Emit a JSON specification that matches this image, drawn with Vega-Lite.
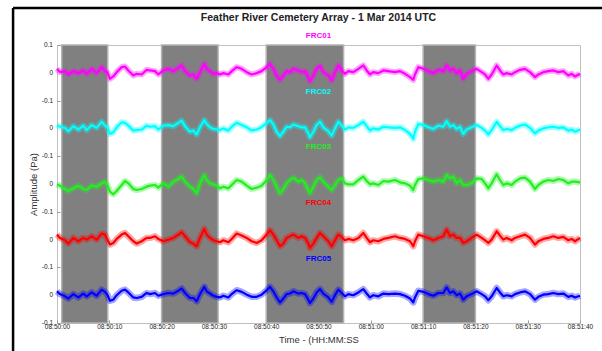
{
  "$schema": "https://vega.github.io/schema/vega-lite/v6.json",
  "width": 523,
  "height": 278,
  "autosize": {"type": "none"},
  "padding": {"left": 57, "top": 45, "right": 22, "bottom": 28},
  "background": "white",
  "title": {"text": "Feather River Cemetery Array - 1 Mar 2014 UTC", "font": "Liberation Sans", "fontSize": 10.5, "fontWeight": "bold", "color": "#222222", "offset": -17, "anchor": "middle"},
  "config": {
    "view": {"stroke": "#c0c0c0", "strokeWidth": 1},
    "axis": {"labelFont": "Liberation Sans", "titleFont": "Liberation Sans", "labelColor": "#222222", "titleColor": "#333333", "titleFontWeight": "normal", "grid": false, "domain": false, "tickColor": "#999999", "labelOverlap": false, "labelFlush": false, "labelBound": false}
  },
  "datasets": {
    "windows": [
      {"t0": 0.9, "t1": 9.7},
      {"t0": 20, "t1": 30.8},
      {"t0": 40, "t1": 54.8},
      {"t0": 70, "t1": 80}
    ],
    "stations": [
      {"s": "FRC01", "offset": 0},
      {"s": "FRC02", "offset": -0.2},
      {"s": "FRC03", "offset": -0.4},
      {"s": "FRC04", "offset": -0.6},
      {"s": "FRC05", "offset": -0.8}
    ],
    "yticks": [
      {"v": 0.1, "label": "0.1"},
      {"v": 0, "label": "0"},
      {"v": -0.1, "label": "-0.1"},
      {"v": -0.2, "label": "0"},
      {"v": -0.3, "label": "-0.1"},
      {"v": -0.4, "label": "0"},
      {"v": -0.5, "label": "-0.1"},
      {"v": -0.6, "label": "0"},
      {"v": -0.7, "label": "-0.1"},
      {"v": -0.8, "label": "0"},
      {"v": -0.9, "label": "-0.1"}
    ],
    "frame": [
      {"x": -8.4, "x2": 115, "y": 0.233, "y2": 0.233},
      {"x": -8.4, "x2": -8.4, "y": 0.233, "y2": -1.3}
    ],
    "waves": [
      {"t":0,"FRC01":0.0144,"FRC02":0.012,"FRC03":-0.0012,"FRC04":0.018,"FRC05":0.014},
      {"t":0.57,"FRC01":0.0024,"FRC02":0.006,"FRC03":-0.006,"FRC04":0.006,"FRC05":0.004},
      {"t":1.53,"FRC01":0.006,"FRC02":0.002,"FRC03":-0.018,"FRC04":-0.0024,"FRC05":-0.004},
      {"t":2.17,"FRC01":-0.006,"FRC02":-0.01,"FRC03":-0.0252,"FRC04":-0.0144,"FRC05":-0.012},
      {"t":3.12,"FRC01":0.006,"FRC02":0.008,"FRC03":-0.0156,"FRC04":0.006,"FRC05":0.004},
      {"t":4.08,"FRC01":-0.0012,"FRC02":-0.004,"FRC03":-0.006,"FRC04":-0.006,"FRC05":-0.008},
      {"t":5.03,"FRC01":0.0084,"FRC02":0.01,"FRC03":-0.018,"FRC04":0.006,"FRC05":0.006},
      {"t":5.67,"FRC01":-0.0036,"FRC02":-0.006,"FRC03":-0.0216,"FRC04":0,"FRC05":-0.004},
      {"t":6.63,"FRC01":0.0144,"FRC02":0.012,"FRC03":-0.006,"FRC04":0.012,"FRC05":0.01},
      {"t":7.58,"FRC01":-0.0012,"FRC02":0.002,"FRC03":-0.0096,"FRC04":0,"FRC05":-0.002},
      {"t":8.54,"FRC01":0.0204,"FRC02":0.024,"FRC03":0.0024,"FRC04":0.0216,"FRC05":0.02},
      {"t":9.18,"FRC01":0.006,"FRC02":0.01,"FRC03":0.0084,"FRC04":0.018,"FRC05":0.012},
      {"t":9.62,"FRC01":0.0024,"FRC02":0.004,"FRC03":-0.0036,"FRC04":0,"FRC05":0.002},
      {"t":10.13,"FRC01":-0.0216,"FRC02":-0.02,"FRC03":-0.0276,"FRC04":-0.018,"FRC05":-0.02},
      {"t":10.77,"FRC01":-0.0132,"FRC02":-0.014,"FRC03":-0.0372,"FRC04":-0.012,"FRC05":-0.016},
      {"t":11.41,"FRC01":0.0024,"FRC02":0.004,"FRC03":-0.0252,"FRC04":0.0024,"FRC05":0},
      {"t":12.36,"FRC01":0.0204,"FRC02":0.022,"FRC03":-0.0036,"FRC04":0.018,"FRC05":0.016},
      {"t":13.0,"FRC01":0.0228,"FRC02":0.02,"FRC03":0.0108,"FRC04":0.024,"FRC05":0.02},
      {"t":13.64,"FRC01":0.0084,"FRC02":0.01,"FRC03":0.0024,"FRC04":0.012,"FRC05":0.01},
      {"t":14.59,"FRC01":-0.0096,"FRC02":-0.008,"FRC03":-0.018,"FRC04":-0.006,"FRC05":-0.008},
      {"t":15.23,"FRC01":-0.0036,"FRC02":-0.006,"FRC03":-0.0216,"FRC04":-0.0144,"FRC05":-0.01},
      {"t":16.19,"FRC01":-0.006,"FRC02":-0.004,"FRC03":-0.018,"FRC04":-0.006,"FRC05":-0.006},
      {"t":17.14,"FRC01":0.0108,"FRC02":0.01,"FRC03":-0.0096,"FRC04":0.006,"FRC05":0.008},
      {"t":17.78,"FRC01":0.0084,"FRC02":0.006,"FRC03":-0.006,"FRC04":0.006,"FRC05":0.004},
      {"t":18.74,"FRC01":0.006,"FRC02":0.008,"FRC03":-0.0036,"FRC04":0.012,"FRC05":0.008},
      {"t":19.37,"FRC01":-0.006,"FRC02":-0.004,"FRC03":-0.0132,"FRC04":0.0024,"FRC05":-0.002},
      {"t":20.33,"FRC01":0.0084,"FRC02":0.01,"FRC03":0.0024,"FRC04":-0.006,"FRC05":0.004},
      {"t":21.29,"FRC01":0.0144,"FRC02":0.012,"FRC03":-0.0096,"FRC04":0,"FRC05":0.008},
      {"t":22.24,"FRC01":0.006,"FRC02":0.008,"FRC03":0.0084,"FRC04":0.006,"FRC05":0.006},
      {"t":23.2,"FRC01":0.018,"FRC02":0.02,"FRC03":0.018,"FRC04":0.018,"FRC05":0.016},
      {"t":23.84,"FRC01":0.0264,"FRC02":0.028,"FRC03":0.0264,"FRC04":0.0264,"FRC05":0.024},
      {"t":24.47,"FRC01":0.006,"FRC02":0.008,"FRC03":0.0084,"FRC04":0.012,"FRC05":0.008},
      {"t":25.43,"FRC01":-0.0096,"FRC02":-0.012,"FRC03":-0.0096,"FRC04":-0.0096,"FRC05":-0.01},
      {"t":26.07,"FRC01":-0.006,"FRC02":-0.008,"FRC03":-0.018,"FRC04":-0.0144,"FRC05":-0.01},
      {"t":26.7,"FRC01":-0.0216,"FRC02":-0.022,"FRC03":-0.0336,"FRC04":-0.024,"FRC05":-0.022},
      {"t":27.34,"FRC01":0.0024,"FRC02":0.004,"FRC03":0.0024,"FRC04":0.006,"FRC05":0.004},
      {"t":28.17,"FRC01":0.0324,"FRC02":0.03,"FRC03":0.0324,"FRC04":0.0384,"FRC05":0.03},
      {"t":28.62,"FRC01":0.0144,"FRC02":0.016,"FRC03":0.0144,"FRC04":0.018,"FRC05":0.014},
      {"t":29.25,"FRC01":0.006,"FRC02":0.004,"FRC03":0.0024,"FRC04":0.006,"FRC05":0.006},
      {"t":29.89,"FRC01":-0.0036,"FRC02":-0.002,"FRC03":-0.0012,"FRC04":-0.0024,"FRC05":-0.002},
      {"t":30.53,"FRC01":-0.0012,"FRC02":-0.004,"FRC03":-0.006,"FRC04":-0.006,"FRC05":-0.006},
      {"t":31.17,"FRC01":-0.006,"FRC02":-0.006,"FRC03":-0.0156,"FRC04":-0.0096,"FRC05":-0.008},
      {"t":31.8,"FRC01":-0.0012,"FRC02":0,"FRC03":-0.0096,"FRC04":-0.0024,"FRC05":-0.002},
      {"t":32.76,"FRC01":-0.006,"FRC02":-0.008,"FRC03":-0.0156,"FRC04":-0.0096,"FRC05":-0.008},
      {"t":33.4,"FRC01":0.006,"FRC02":0.006,"FRC03":-0.0036,"FRC04":0.0024,"FRC05":0.004},
      {"t":34.35,"FRC01":0.0204,"FRC02":0.02,"FRC03":0.0144,"FRC04":0.0216,"FRC05":0.018},
      {"t":35.31,"FRC01":0.0144,"FRC02":0.012,"FRC03":0.0084,"FRC04":0.0144,"FRC05":0.012},
      {"t":36.27,"FRC01":0.0024,"FRC02":0.004,"FRC03":-0.006,"FRC04":0.006,"FRC05":0.002},
      {"t":37.22,"FRC01":-0.006,"FRC02":-0.008,"FRC03":-0.018,"FRC04":-0.006,"FRC05":-0.006},
      {"t":38.18,"FRC01":-0.0012,"FRC02":-0.004,"FRC03":-0.0132,"FRC04":-0.012,"FRC05":-0.006},
      {"t":39.13,"FRC01":0.006,"FRC02":0.004,"FRC03":-0.006,"FRC04":-0.0024,"FRC05":0.002},
      {"t":40.09,"FRC01":0.0204,"FRC02":0.02,"FRC03":0.0144,"FRC04":0.018,"FRC05":0.018},
      {"t":40.73,"FRC01":0.0324,"FRC02":0.03,"FRC03":0.0324,"FRC04":0.0336,"FRC05":0.03},
      {"t":41.36,"FRC01":0.0144,"FRC02":0.014,"FRC03":0.0144,"FRC04":0.018,"FRC05":0.014},
      {"t":42.0,"FRC01":-0.0096,"FRC02":-0.012,"FRC03":-0.0096,"FRC04":-0.0024,"FRC05":-0.008},
      {"t":42.64,"FRC01":-0.0252,"FRC02":-0.028,"FRC03":-0.0336,"FRC04":-0.024,"FRC05":-0.026},
      {"t":43.28,"FRC01":-0.0096,"FRC02":-0.012,"FRC03":-0.018,"FRC04":-0.0144,"FRC05":-0.012},
      {"t":43.91,"FRC01":0.006,"FRC02":0.006,"FRC03":0.0024,"FRC04":0.006,"FRC05":0.004},
      {"t":44.55,"FRC01":0.0024,"FRC02":0.004,"FRC03":0.0144,"FRC04":0.012,"FRC05":0.006},
      {"t":45.19,"FRC01":0.0144,"FRC02":0.014,"FRC03":0.0228,"FRC04":0.018,"FRC05":0.014},
      {"t":46.14,"FRC01":0.0084,"FRC02":0.008,"FRC03":0.0084,"FRC04":0.006,"FRC05":0.006},
      {"t":46.78,"FRC01":0.0024,"FRC02":0.004,"FRC03":0.0144,"FRC04":0.012,"FRC05":0.008},
      {"t":47.42,"FRC01":0.006,"FRC02":0.004,"FRC03":0.0024,"FRC04":0.006,"FRC05":0.004},
      {"t":48.06,"FRC01":-0.0156,"FRC02":-0.018,"FRC03":-0.0216,"FRC04":-0.0144,"FRC05":-0.016},
      {"t":48.37,"FRC01":-0.03,"FRC02":-0.032,"FRC03":-0.0336,"FRC04":-0.03,"FRC05":-0.028},
      {"t":49.01,"FRC01":-0.0096,"FRC02":-0.012,"FRC03":-0.0096,"FRC04":-0.0144,"FRC05":-0.012},
      {"t":49.65,"FRC01":0.0144,"FRC02":0.012,"FRC03":0.0144,"FRC04":0.006,"FRC05":0.01},
      {"t":50.29,"FRC01":0.025,"FRC02":0.024,"FRC03":0.024,"FRC04":0.024,"FRC05":0.022},
      {"t":50.92,"FRC01":0.0024,"FRC02":0.004,"FRC03":0.0084,"FRC04":0.012,"FRC05":0.006},
      {"t":51.88,"FRC01":-0.0096,"FRC02":-0.01,"FRC03":-0.0096,"FRC04":-0.006,"FRC05":-0.008},
      {"t":52.52,"FRC01":-0.0276,"FRC02":-0.026,"FRC03":-0.0216,"FRC04":-0.024,"FRC05":-0.024},
      {"t":53.15,"FRC01":0.0024,"FRC02":0,"FRC03":-0.0036,"FRC04":-0.0024,"FRC05":0},
      {"t":53.79,"FRC01":0.0264,"FRC02":0.024,"FRC03":0.0144,"FRC04":0.018,"FRC05":0.02},
      {"t":54.43,"FRC01":0.0084,"FRC02":0.01,"FRC03":0.0204,"FRC04":0.0096,"FRC05":0.008},
      {"t":55.07,"FRC01":-0.0036,"FRC02":-0.004,"FRC03":0.0024,"FRC04":-0.0024,"FRC05":-0.004},
      {"t":55.7,"FRC01":0.006,"FRC02":0.004,"FRC03":-0.0012,"FRC04":0.0024,"FRC05":0.004},
      {"t":56.66,"FRC01":0.0024,"FRC02":0.002,"FRC03":-0.0012,"FRC04":-0.0024,"FRC05":0},
      {"t":57.62,"FRC01":0.0144,"FRC02":0.012,"FRC03":0.0144,"FRC04":0.006,"FRC05":0.01},
      {"t":58.57,"FRC01":0.0264,"FRC02":0.024,"FRC03":0.0264,"FRC04":0.024,"FRC05":0.022},
      {"t":59.21,"FRC01":0.0084,"FRC02":0.008,"FRC03":0.0108,"FRC04":0.006,"FRC05":0.006},
      {"t":59.85,"FRC01":-0.006,"FRC02":-0.008,"FRC03":-0.0012,"FRC04":-0.0096,"FRC05":-0.008},
      {"t":60.48,"FRC01":0.0024,"FRC02":0,"FRC03":0.0024,"FRC04":-0.0024,"FRC05":0},
      {"t":61.44,"FRC01":-0.0012,"FRC02":-0.004,"FRC03":-0.0036,"FRC04":-0.006,"FRC05":-0.004},
      {"t":62.4,"FRC01":0.0084,"FRC02":0.006,"FRC03":0.0108,"FRC04":0.0024,"FRC05":0.006},
      {"t":63.35,"FRC01":0.006,"FRC02":0.004,"FRC03":0.0084,"FRC04":0.006,"FRC05":0.004},
      {"t":64.63,"FRC01":0.0024,"FRC02":0.002,"FRC03":0.0144,"FRC04":0.012,"FRC05":0.006},
      {"t":65.58,"FRC01":0.006,"FRC02":0.004,"FRC03":0.006,"FRC04":0.006,"FRC05":0.004},
      {"t":66.54,"FRC01":-0.0036,"FRC02":-0.006,"FRC03":0.0024,"FRC04":0.0024,"FRC05":-0.002},
      {"t":67.5,"FRC01":-0.0156,"FRC02":-0.02,"FRC03":-0.006,"FRC04":-0.006,"FRC05":-0.012},
      {"t":68.13,"FRC01":-0.0252,"FRC02":-0.038,"FRC03":-0.0216,"FRC04":-0.024,"FRC05":-0.026},
      {"t":68.45,"FRC01":-0.006,"FRC02":-0.012,"FRC03":-0.0036,"FRC04":-0.006,"FRC05":-0.008},
      {"t":69.09,"FRC01":0.0204,"FRC02":0.016,"FRC03":0.018,"FRC04":0.018,"FRC05":0.016},
      {"t":70.04,"FRC01":0.0144,"FRC02":0.012,"FRC03":0.0204,"FRC04":0.012,"FRC05":0.012},
      {"t":71.0,"FRC01":0.006,"FRC02":0.004,"FRC03":0.0144,"FRC04":0.006,"FRC05":0.004},
      {"t":71.96,"FRC01":-0.0012,"FRC02":-0.002,"FRC03":0.0084,"FRC04":-0.0024,"FRC05":-0.002},
      {"t":72.91,"FRC01":0.0108,"FRC02":0.01,"FRC03":0.0144,"FRC04":0.006,"FRC05":0.008},
      {"t":73.87,"FRC01":0.006,"FRC02":0.006,"FRC03":0.0084,"FRC04":0.012,"FRC05":0.008},
      {"t":74.51,"FRC01":0.0264,"FRC02":0.026,"FRC03":0.0324,"FRC04":0.036,"FRC05":0.028},
      {"t":75.14,"FRC01":0.0084,"FRC02":0.006,"FRC03":0.0204,"FRC04":0.012,"FRC05":0.008},
      {"t":75.78,"FRC01":0.0144,"FRC02":0.012,"FRC03":0.0264,"FRC04":0.018,"FRC05":0.014},
      {"t":76.42,"FRC01":-0.0012,"FRC02":-0.002,"FRC03":0.0024,"FRC04":0.006,"FRC05":0},
      {"t":77.06,"FRC01":0.0084,"FRC02":0.006,"FRC03":0.0144,"FRC04":0.006,"FRC05":0.006},
      {"t":77.69,"FRC01":-0.0216,"FRC02":-0.02,"FRC03":-0.0036,"FRC04":-0.012,"FRC05":-0.016},
      {"t":78.33,"FRC01":-0.0036,"FRC02":-0.004,"FRC03":-0.0036,"FRC04":-0.006,"FRC05":-0.004},
      {"t":79.29,"FRC01":0.006,"FRC02":0.004,"FRC03":0.0024,"FRC04":0.006,"FRC05":0.004},
      {"t":80.24,"FRC01":0.0144,"FRC02":0.012,"FRC03":0.0204,"FRC04":0.018,"FRC05":0.014},
      {"t":81.2,"FRC01":0.0024,"FRC02":0.002,"FRC03":0.018,"FRC04":0.006,"FRC05":0.004},
      {"t":81.84,"FRC01":-0.006,"FRC02":-0.008,"FRC03":0.0024,"FRC04":-0.0024,"FRC05":-0.004},
      {"t":82.47,"FRC01":-0.0216,"FRC02":-0.022,"FRC03":-0.0156,"FRC04":-0.012,"FRC05":-0.018},
      {"t":83.11,"FRC01":-0.006,"FRC02":-0.006,"FRC03":0.0024,"FRC04":0,"FRC05":-0.004},
      {"t":84.07,"FRC01":0.0264,"FRC02":0.024,"FRC03":0.0348,"FRC04":0.03,"FRC05":0.026},
      {"t":84.7,"FRC01":0.0084,"FRC02":0.008,"FRC03":0.0144,"FRC04":0.0144,"FRC05":0.01},
      {"t":85.34,"FRC01":-0.006,"FRC02":-0.006,"FRC03":-0.0036,"FRC04":0,"FRC05":-0.004},
      {"t":85.98,"FRC01":-0.0012,"FRC02":-0.002,"FRC03":0.0024,"FRC04":0.006,"FRC05":0},
      {"t":86.93,"FRC01":-0.006,"FRC02":-0.006,"FRC03":-0.0036,"FRC04":-0.0024,"FRC05":-0.004},
      {"t":87.57,"FRC01":0.0024,"FRC02":0.002,"FRC03":0.0084,"FRC04":0.006,"FRC05":0.004},
      {"t":88.53,"FRC01":0.0108,"FRC02":0.01,"FRC03":0.0204,"FRC04":0.012,"FRC05":0.01},
      {"t":89.48,"FRC01":0.0144,"FRC02":0.014,"FRC03":0.0228,"FRC04":0.018,"FRC05":0.014},
      {"t":90.44,"FRC01":0.0024,"FRC02":0.002,"FRC03":0.0084,"FRC04":0.006,"FRC05":0.004},
      {"t":91.4,"FRC01":-0.0156,"FRC02":-0.018,"FRC03":-0.018,"FRC04":-0.018,"FRC05":-0.016},
      {"t":92.03,"FRC01":-0.006,"FRC02":-0.008,"FRC03":-0.0036,"FRC04":-0.006,"FRC05":-0.006},
      {"t":92.99,"FRC01":0.0024,"FRC02":0,"FRC03":0.0084,"FRC04":0.0024,"FRC05":0.002},
      {"t":93.94,"FRC01":0.006,"FRC02":0.004,"FRC03":0.0144,"FRC04":0.006,"FRC05":0.004},
      {"t":94.9,"FRC01":0.0084,"FRC02":0.006,"FRC03":0.0108,"FRC04":0.012,"FRC05":0.008},
      {"t":95.86,"FRC01":0.0024,"FRC02":0.002,"FRC03":0.018,"FRC04":0.006,"FRC05":0.004},
      {"t":96.81,"FRC01":0.006,"FRC02":0.004,"FRC03":0.0144,"FRC04":0.0096,"FRC05":0.006},
      {"t":97.77,"FRC01":-0.0096,"FRC02":-0.008,"FRC03":0.0024,"FRC04":-0.0024,"FRC05":-0.006},
      {"t":98.41,"FRC01":-0.0036,"FRC02":-0.004,"FRC03":0.0084,"FRC04":0.0024,"FRC05":-0.002},
      {"t":99.04,"FRC01":-0.0132,"FRC02":-0.012,"FRC03":0.0084,"FRC04":-0.006,"FRC05":-0.008},
      {"t":100,"FRC01":-0.0036,"FRC02":-0.004,"FRC03":0.006,"FRC04":0.006,"FRC05":-0.002}
    ]
  },
  "layer": [
    {
      "data": {"name": "windows"},
      "mark": {"type": "rect", "fill": "#808080", "stroke": "#b4b4b4", "strokeWidth": 1.5},
      "encoding": {
        "x": {"field": "t0", "type": "quantitative", "scale": {"domain": [0, 100], "nice": false, "zero": false},
          "axis": {"values": [0, 10, 20, 30, 40, 50, 60, 70, 80, 90, 100],
            "labelExpr": "'08:' + (datum.value < 60 ? '50' : '51') + ':' + ((datum.value % 60) < 10 ? '0' : '') + (datum.value % 60)",
            "labelFontSize": 6.5, "tickSize": -3, "labelPadding": 3, "labelOverlap": false, "labelFlush": false,
            "title": "Time - (HH:MM:SS", "titleFontSize": 9.5, "titlePadding": 5}},
        "x2": {"field": "t1"}
      }
    },
    {
      "data": {"name": "waves"},
      "transform": [
        {"fold": ["FRC01", "FRC02", "FRC03", "FRC04", "FRC05"], "as": ["station", "value"]},
        {"lookup": "station", "from": {"data": {"name": "stations"}, "key": "s", "fields": ["offset"]}},
        {"calculate": "datum.value + datum.offset", "as": "y"}
      ],
      "layer": [
        {
          "mark": {"type": "line", "strokeJoin": "round", "opacity": 0.35},
          "encoding": {
            "x": {"field": "t", "type": "quantitative"},
            "y": {"field": "y", "type": "quantitative", "scale": {"domain": [-0.9, 0.1], "nice": false, "zero": false},
              "axis": {"values": [0.1, 0, -0.1, -0.2, -0.3, -0.4, -0.5, -0.6, -0.7, -0.8, -0.9],
                "labels": false, "tickSize": -3,
                "title": "Amplitude (Pa)", "titleFontSize": 9.5, "titlePadding": 18}},
            "color": {"field": "station", "type": "nominal", "scale": {"domain": ["FRC01", "FRC02", "FRC03", "FRC04", "FRC05"], "range": ["#ff00ff", "#00ffff", "#22ee22", "#ff0000", "#0000ff"]}, "legend": null},
            "strokeWidth": {"field": "station", "type": "nominal", "scale": {"domain": ["FRC01", "FRC02", "FRC03", "FRC04", "FRC05"], "range": [6, 6.5, 3.5, 6, 6]}, "legend": null}
          }
        },
        {
          "mark": {"type": "line", "strokeJoin": "round"},
          "encoding": {
            "x": {"field": "t", "type": "quantitative"},
            "y": {"field": "y", "type": "quantitative"},
            "color": {"field": "station", "type": "nominal", "legend": null},
            "strokeWidth": {"value": 2.2}
          }
        }
      ]
    },
    {
      "data": {"name": "yticks"},
      "mark": {"type": "text", "font": "Liberation Sans", "fontSize": 6.5, "align": "right", "baseline": "middle", "dx": -4, "color": "#222222"},
      "encoding": {
        "x": {"datum": 0, "type": "quantitative"},
        "y": {"field": "v", "type": "quantitative"},
        "text": {"field": "label"}
      }
    },
    {
      "data": {"name": "stations"},
      "transform": [{"calculate": "datum.offset + 0.132", "as": "ly"}],
      "mark": {"type": "text", "font": "Liberation Sans", "fontSize": 8, "fontWeight": "bold", "baseline": "middle", "align": "center"},
      "encoding": {
        "x": {"datum": 50, "type": "quantitative"},
        "y": {"field": "ly", "type": "quantitative"},
        "text": {"field": "s"},
        "color": {"field": "s", "type": "nominal", "legend": null}
      }
    },
    {
      "data": {"name": "frame"},
      "mark": {"type": "rule", "color": "#000000", "strokeWidth": 2.5},
      "encoding": {
        "x": {"field": "x", "type": "quantitative"},
        "x2": {"field": "x2"},
        "y": {"field": "y", "type": "quantitative"},
        "y2": {"field": "y2"}
      }
    }
  ]
}
